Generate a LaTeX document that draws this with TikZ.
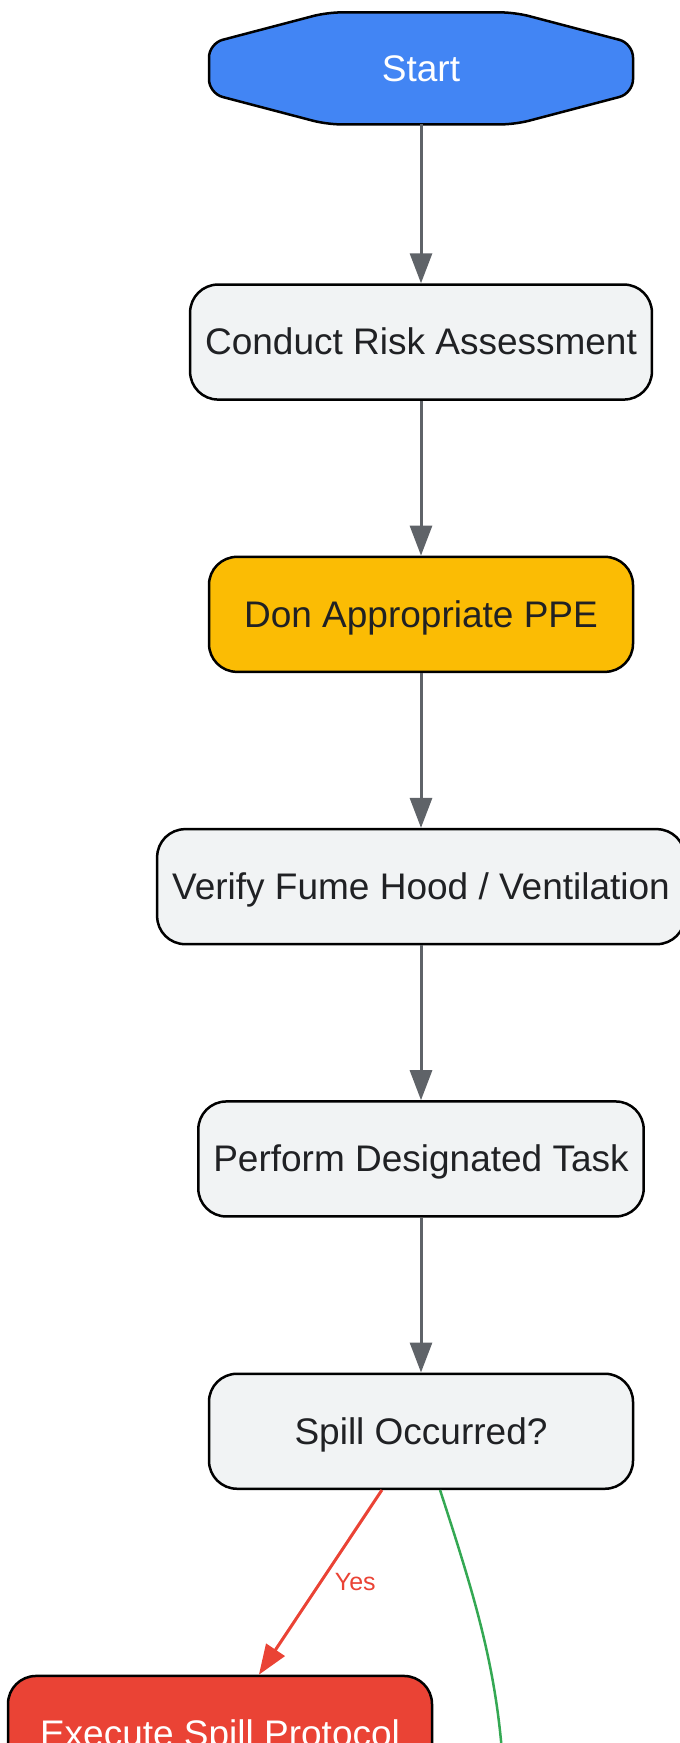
\documentclass[tikz,border=0pt]{standalone}
\usepackage{fontspec}
\setmainfont{Liberation Sans}
\usepackage{xcolor}
\usetikzlibrary{shapes.geometric, arrows.meta, positioning}
\definecolor{startblue}{HTML}{4285F4}
\definecolor{ppeyellow}{HTML}{FBBC04}
\definecolor{spillred}{HTML}{EA4335}
\definecolor{boxgray}{HTML}{F1F3F4}
\definecolor{edgegray}{HTML}{5F6368}
\definecolor{nogreen}{HTML}{34A853}
\definecolor{inkdark}{HTML}{202124}
\tikzstyle{stepbox} = [rectangle, rounded corners=28pt, minimum width=424pt, minimum height=115pt, inner xsep=15pt, text height=33.5pt, text depth=7.8pt, text centered, draw=black, line width=2.5pt, fill=boxgray, text=inkdark, font=\fontsize{37}{44}\selectfont]
\tikzstyle{arrow} = [line width=3pt, draw=edgegray, -{Triangle[length=30pt,width=22pt]}]

\begin{document}
\begin{tikzpicture}[node distance=154.8pt]
	\path[use as bounding box, clip] (0,0) rectangle (680pt,-1743pt);
	\node (start) [stepbox, draw=none, fill=none, minimum height=112pt, outer sep=0pt] at (421pt,-68.4pt) {};
	\draw[line width=2.5pt, fill=startblue, rounded corners=14pt]
		([yshift=-31pt]start.north west) -- ([xshift=118pt]start.north west) -- ([xshift=-118pt]start.north east)
		-- ([yshift=-31pt]start.north east) -- ([yshift=31pt]start.south east) -- ([xshift=-118pt]start.south east)
		-- ([xshift=118pt]start.south west) -- ([yshift=31pt]start.south west) -- cycle;
	\node[text=white, text height=33.5pt, text depth=7.8pt, font=\fontsize{37}{44}\selectfont] at (start) {Start};
	\node (risk) [stepbox, below=158.9pt of start] {Conduct Risk Assessment};
	\node (ppe) [stepbox, below=of risk, fill=ppeyellow] {Don Appropriate PPE};
	\node (hood) [stepbox, below=of ppe] {Verify Fume Hood / Ventilation};
	\node (task) [stepbox, below=of hood] {Perform Designated Task};
	\node (spill) [stepbox, below=of task] {Spill Occurred?};
	\node (protocol) [stepbox, below=184.7pt of spill, xshift=-201pt, fill=spillred, text=white] {Execute Spill Protocol};
	\coordinate (nobranch) at (505pt,-1830pt);
	\draw [arrow] (start) -- (risk);
	\draw [arrow] (risk) -- (ppe);
	\draw [arrow] (ppe) -- (hood);
	\draw [arrow] (hood) -- (task);
	\draw [arrow] (task) -- (spill);
	\draw [arrow, draw=spillred] (spill) -- node[anchor=west, inner sep=0pt, xshift=13pt, text=spillred, font=\fontsize{25}{30}\selectfont] {Yes} (protocol);
	\draw [line width=2.5pt, draw=nogreen] (spill) to[out=-72, in=90] (nobranch);
\end{tikzpicture}
\end{document}
